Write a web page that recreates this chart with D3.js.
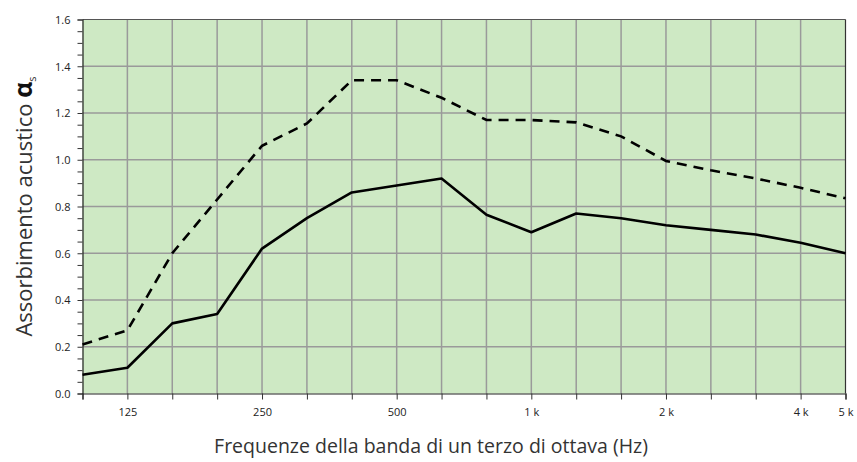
<!DOCTYPE html>
<html><head><meta charset="utf-8">
<script src="https://cdn.jsdelivr.net/npm/d3@7"></script>
<style>
body{margin:0;background:#fff;}
text{font-family:"Open Sans","Noto Sans",sans-serif;}
</style></head>
<body><svg id="c" width="857" height="462"></svg>
<script>
const categories = ["100","125","160","200","250","315","400","500","630","800","1000","1250","1600","2000","2500","3150","4000","5000"];
const solidValues = [0.08,0.11,0.30,0.34,0.62,0.75,0.86,0.89,0.92,0.765,0.69,0.77,0.75,0.72,0.70,0.68,0.645,0.60];
const dashedValues = [0.21,0.27,0.60,0.83,1.06,1.155,1.34,1.34,1.265,1.17,1.17,1.16,1.10,0.995,0.955,0.92,0.88,0.835];
const xTickLabels = {"125":"125","250":"250","500":"500","1000":"1 k","2000":"2 k","4000":"4 k","5000":"5 k"};
const yTicks = [0,0.2,0.4,0.6,0.8,1.0,1.2,1.4,1.6];

const svg = d3.select("#c");
const L=82.5, R=845.5, T=19.5, B=393.5;
const x = d3.scalePoint().domain(categories).range([L,R]);
const y = d3.scaleLinear().domain([0,1.6]).range([B,T]);

svg.append("rect").attr("x",L).attr("y",T).attr("width",R-L).attr("height",B-T).attr("fill","#cee9c4");

// gridlines
svg.append("g").selectAll("line").data(categories.slice(1,-1)).join("line")
  .attr("x1",d=>x(d)).attr("x2",d=>x(d)).attr("y1",T).attr("y2",B)
  .attr("stroke","#9a9a9a").attr("stroke-width",1.5);
svg.append("g").selectAll("line").data(yTicks.slice(1,-1)).join("line")
  .attr("x1",L).attr("x2",R).attr("y1",d=>y(d)).attr("y2",d=>y(d))
  .attr("stroke","#9a9a9a").attr("stroke-width",1.5);

// border top/right
svg.append("line").attr("x1",L).attr("x2",R).attr("y1",T).attr("y2",T).attr("stroke","#555").attr("stroke-width",1.2);
svg.append("line").attr("x1",R).attr("x2",R).attr("y1",T).attr("y2",B).attr("stroke","#333").attr("stroke-width",1.2);

// y axis
const minor = d3.range(0,1.6001,0.05);
const yAxis = svg.append("g").attr("transform",`translate(${L},0)`)
  .call(d3.axisLeft(y).tickValues(minor).tickSize(5).tickFormat(d=>{
    const m = yTicks.find(t=>Math.abs(t-d)<1e-6);
    return m===undefined? "" : d3.format(".1f")(m);
  }));
yAxis.select(".domain").attr("stroke","#222").attr("stroke-width",1.2);
yAxis.selectAll(".tick line").attr("stroke","#333");
yAxis.selectAll(".tick text").attr("font-size",11).attr("fill","#222").attr("x",-12).attr("dy","0.35em");

// x axis
const xAxis = svg.append("g").attr("transform",`translate(0,${B})`)
  .call(d3.axisBottom(x).tickSize(6).tickPadding(9).tickFormat(d=>xTickLabels[d]||""));
xAxis.select(".domain").attr("stroke","#222").attr("stroke-width",1.2);
xAxis.selectAll(".tick line").attr("stroke","#333");
xAxis.selectAll(".tick text").attr("font-size",11).attr("fill","#222");

// lines
const line = d3.line().x((d,i)=>x(categories[i])).y(d=>y(d));
svg.append("path").datum(dashedValues).attr("d",line).attr("fill","none")
  .attr("stroke","#000").attr("stroke-width",2.6).attr("stroke-dasharray","10,7");
svg.append("path").datum(solidValues).attr("d",line).attr("fill","none")
  .attr("stroke","#000").attr("stroke-width",2.6).attr("stroke-linejoin","round");

// titles
svg.append("text").attr("x",431).attr("y",453).attr("text-anchor","middle")
  .attr("font-size",19.5).attr("fill","#333").text("Frequenze della banda di un terzo di ottava (Hz)");
const yt = svg.append("text").attr("transform",`translate(32,${(T+B)/2}) rotate(-90)`)
  .attr("text-anchor","middle").attr("font-size",22).attr("fill","#333");
yt.append("tspan").text("Assorbimento acustico ");
yt.append("tspan").attr("font-size",25).attr("font-weight","bold").attr("fill","#111").text("α");
yt.append("tspan").attr("font-size",11).attr("dy",4).text("s");
</script></body></html>
